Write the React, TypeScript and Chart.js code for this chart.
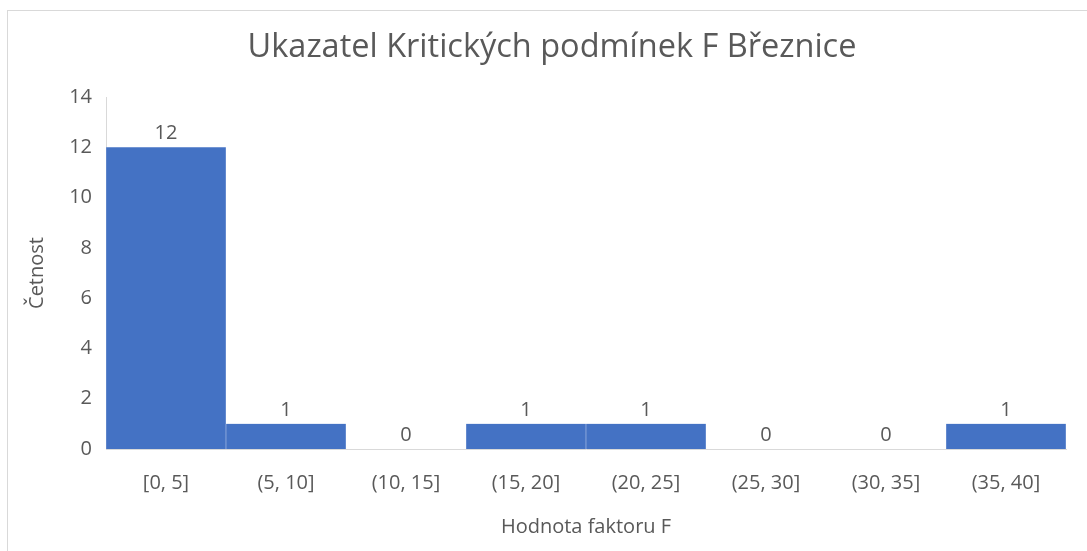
import React, { useEffect, useRef } from "react";
import { Chart, registerables } from "chart.js";

Chart.register(...registerables);

const categories = ["[0, 5]", "(5, 10]", "(10, 15]", "(15, 20]", "(20, 25]", "(25, 30]", "(30, 35]", "(35, 40]"];
const counts = [12, 1, 0, 1, 1, 0, 0, 1];
const yMin = 0;
const yMax = 14;
const yStep = 2;
const titleText = "Ukazatel Kritických podmínek F Březnice";
const xTitle = "Hodnota faktoru F";
const yTitle = "Četnost";

const FONT = "'Open Sans'";
const TEXT = "#595959";
const BAR = "#4472C4";
const AXIS = "#d9d9d9";
const SIZE = 20;

export default function App() {
  const ref = useRef<HTMLCanvasElement>(null);

  useEffect(() => {
    const canvas = ref.current!;

    const titlePlugin = {
      id: "customTitle",
      afterDraw(chart: any) {
        const { ctx } = chart;
        ctx.save();
        ctx.font = `32.5px ${FONT}`;
        ctx.fillStyle = TEXT;
        ctx.textAlign = "center";
        ctx.textBaseline = "middle";
        ctx.fillText(titleText, 544, 37);
        ctx.restore();
      },
    };

    const labelPlugin = {
      id: "dataLabels",
      afterDatasetsDraw(chart: any) {
        const { ctx } = chart;
        const meta = chart.getDatasetMeta(0);
        ctx.save();
        ctx.font = `${SIZE}px ${FONT}`;
        ctx.fillStyle = TEXT;
        ctx.textAlign = "center";
        ctx.textBaseline = "middle";
        meta.data.forEach((el: any, i: number) => {
          ctx.fillText(String(counts[i]), el.x, el.y - 14);
        });
        ctx.restore();
      },
    };

    const chart = new Chart(canvas, {
      type: "bar",
      data: {
        labels: categories,
        datasets: [
          {
            data: counts,
            backgroundColor: BAR,
            borderColor: "rgba(255,255,255,0.35)",
            borderWidth: { left: 0.5, right: 0.5, top: 0, bottom: 0 },
            borderSkipped: false,
            barPercentage: 1,
            categoryPercentage: 1,
          },
        ],
      },
      options: {
        responsive: false,
        animation: false,
        devicePixelRatio: 1,
        layout: { padding: { top: 86, left: 0, right: 21, bottom: 10 } },
        plugins: {
          legend: { display: false },
          title: { display: false },
          tooltip: { enabled: false },
        },
        scales: {
          x: {
            grid: { display: false, drawTicks: false },
            border: { display: true, color: AXIS, width: 1 },
            ticks: { color: TEXT, font: { family: FONT, size: SIZE }, padding: 22, maxRotation: 0, autoSkip: false },
            title: { display: true, text: xTitle, color: TEXT, font: { family: FONT, size: SIZE }, padding: { top: 0, bottom: 2 } },
            afterFit(scale: any) {
              scale.height = 92;
            },
          },
          y: {
            min: yMin,
            max: yMax,
            grid: { display: false, drawTicks: false },
            border: { display: true, color: AXIS, width: 1 },
            ticks: { stepSize: yStep, color: TEXT, font: { family: FONT, size: SIZE }, padding: 14 },
            title: { display: true, text: yTitle, color: TEXT, font: { family: FONT, size: SIZE }, padding: { top: 17, bottom: 0 } },
            afterFit(scale: any) {
              scale.width = 98;
            },
          },
        },
      },
      plugins: [titlePlugin, labelPlugin],
    });

    return () => chart.destroy();
  }, []);

  return (
    <div
      style={{
        position: "fixed",
        left: 7,
        top: 10,
        width: 1100,
        height: 560,
        border: `1px solid ${AXIS}`,
        background: "#fff",
      }}
    >
      <canvas ref={ref} width={1079} height={540} style={{ display: "block", width: 1079, height: 540 }} />
    </div>
  );
}
